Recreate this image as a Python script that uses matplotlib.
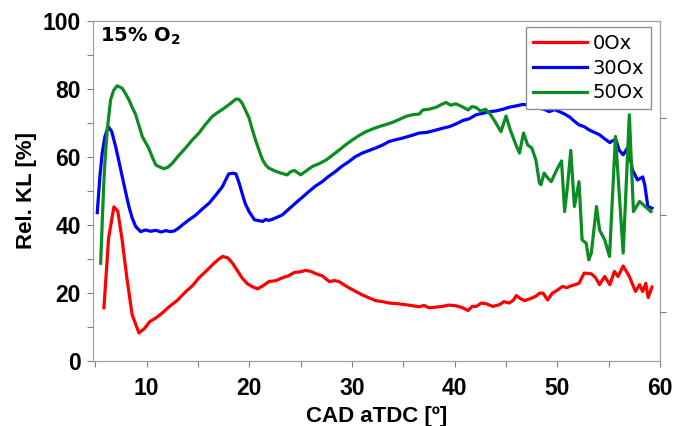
import numpy as np
import matplotlib
matplotlib.use('Agg')
import matplotlib.pyplot as plt
from matplotlib.ticker import MultipleLocator
from matplotlib.font_manager import FontProperties

tick_font = {'family': 'Liberation Sans', 'size': 16.5, 'weight': 'bold'}
label_font = {'family': 'Liberation Sans', 'size': 16, 'weight': 'bold'}

# ------------------- relative KL vs crank angle -------------------
cad_0ox = [5.85, 6.3, 6.82, 7.2, 7.6, 8.1, 8.6, 9.26, 9.8, 10.3, 10.9, 11.5, 12.2, 13.0,
           13.8, 14.5, 15.1, 15.8, 16.4, 16.9, 17.4, 17.9, 18.35, 18.8, 19.3, 19.8, 20.3,
           20.8, 21.3, 21.9, 22.6, 23.2, 23.8, 24.4, 25.0, 25.5, 26.0, 26.5, 27.1, 27.8,
           28.3, 28.75, 29.2, 29.7, 30.3, 31.0, 31.6, 32.3, 33.0, 33.6, 34.4, 35.25, 35.9,
           36.55, 37.0, 37.5, 38.2, 38.8, 39.4, 40.1, 40.7, 41.3, 41.7, 42.1, 42.6, 43.05,
           43.7, 44.35, 44.8, 45.3, 45.7, 46.0, 46.4, 46.8, 47.3, 47.9, 48.25, 48.6, 49.05,
           49.5, 50.0, 50.5, 50.9, 51.2, 51.6, 52.1, 52.6, 53.3, 53.7, 54.1, 54.6, 55.1,
           55.55, 55.9, 56.4, 57.0, 57.6, 58.0, 58.3, 58.6, 58.84, 59.2]
kl_0ox = [15.6, 36.0, 45.3, 44.0, 36.0, 24.0, 13.5, 8.2, 9.5, 11.5, 12.6, 14.0, 15.9, 17.8,
          20.3, 22.2, 24.4, 26.4, 28.2, 29.6, 30.7, 30.3, 28.8, 26.7, 24.4, 22.7, 21.8,
          21.2, 22.0, 23.3, 23.6, 24.4, 25.0, 26.0, 26.2, 26.6, 26.3, 25.6, 25.0, 23.3,
          23.6, 23.3, 22.4, 21.5, 20.5, 19.4, 18.6, 17.7, 17.4, 17.0, 16.8, 16.5, 16.2,
          15.9, 16.3, 15.6, 15.8, 16.0, 16.4, 16.2, 15.7, 14.8, 16.0, 16.0, 17.0, 16.8,
          16.0, 16.5, 17.4, 17.0, 17.8, 19.2, 18.3, 17.7, 18.2, 19.0, 19.9, 19.9, 17.9,
          19.9, 20.8, 21.9, 21.5, 21.9, 22.3, 22.8, 25.8, 25.6, 24.5, 22.4, 24.8, 22.4,
          26.3, 24.8, 27.9, 24.8, 20.4, 22.4, 20.4, 22.8, 18.6, 21.7]

cad_30ox = [5.2, 5.45, 5.68, 5.95, 6.27, 6.6, 6.99, 7.3, 7.63, 7.95, 8.28, 8.6, 8.94, 9.42,
            9.9, 10.4, 10.9, 11.4, 11.9, 12.3, 12.7, 13.1, 13.5, 14.1, 14.8, 15.4, 16.1,
            16.7, 17.4, 17.7, 18.0, 18.4, 18.7, 19.0, 19.3, 19.6, 19.98, 20.5, 21.0, 21.3,
            21.6, 21.9, 22.3, 23.2, 23.8, 24.5, 25.2, 25.8, 26.4, 27.1, 27.7, 28.4, 29.0,
            29.7, 30.3, 31.0, 31.6, 32.3, 33.0, 33.6, 34.2, 34.9, 35.7, 36.55, 37.3, 38.2,
            38.8, 39.5, 40.2, 40.8, 41.4, 42.1, 42.7, 43.4, 44.0, 44.7, 45.3, 46.0, 46.6,
            47.3, 47.8, 48.25, 48.7, 49.2, 49.7, 50.2, 50.7, 51.2, 51.6, 52.1, 52.6, 53.1,
            53.6, 54.1, 54.6, 55.1, 55.4, 55.7, 56.0, 56.4, 56.9, 57.3, 57.8, 58.3, 58.5,
            58.8, 59.2]
kl_30ox = [43.6, 54.0, 61.1, 66.0, 68.9, 67.5, 63.0, 58.8, 54.2, 49.8, 45.4, 42.0, 39.5, 38.0,
           38.5, 38.1, 38.4, 37.9, 38.3, 38.0, 38.2, 39.0, 40.0, 41.4, 42.9, 44.6, 46.4,
           48.6, 51.3, 53.2, 55.0, 55.2, 55.0, 52.4, 49.3, 46.3, 43.9, 41.5, 41.2, 41.0,
           41.6, 41.3, 41.7, 42.9, 44.5, 46.4, 48.2, 49.8, 51.3, 52.7, 54.2, 55.7, 57.2,
           58.6, 60.0, 61.1, 61.8, 62.6, 63.5, 64.5, 65.0, 65.5, 66.2, 67.0, 67.2, 67.9,
           68.4, 68.9, 69.8, 70.7, 71.2, 72.4, 72.8, 73.3, 73.5, 74.0, 74.6, 75.0, 75.4,
           75.3, 74.8, 74.3, 74.0, 73.3, 73.9, 73.3, 72.6, 71.7, 70.6, 69.4, 68.9, 67.9,
           67.2, 66.5, 65.3, 64.2, 64.8, 65.0, 62.0, 60.6, 63.0, 56.2, 53.2, 54.1, 51.8,
           45.4, 44.9]

cad_50ox = [5.53, 5.7, 5.85, 6.0, 6.17, 6.5, 6.8, 7.14, 7.63, 7.95, 8.28, 8.6, 8.94, 9.25,
            9.58, 10.2, 10.55, 10.9, 11.3, 11.7, 12.1, 12.5, 13.1, 13.8, 14.4, 15.1, 15.7,
            16.4, 16.9, 17.4, 18.0, 18.7, 19.0, 19.3, 19.6, 19.98, 20.3, 20.6, 21.0, 21.3,
            21.6, 21.9, 22.6, 23.1, 23.7, 24.0, 24.4, 25.0, 25.6, 26.15, 26.8, 27.5, 28.1,
            28.75, 29.4, 30.05, 30.7, 31.35, 32.0, 32.65, 33.3, 33.9, 34.6, 35.25, 35.9,
            36.55, 36.9, 37.5, 38.2, 38.7, 39.15, 39.6, 40.1, 40.7, 41.3, 41.7, 42.1, 42.5,
            43.0, 43.4, 43.9, 44.5, 45.0, 45.4, 45.9, 46.3, 46.7, 47.1, 47.5, 47.9, 48.25,
            48.4, 48.7, 49.0, 49.4, 49.9, 50.4, 50.7, 51.0, 51.3, 51.65, 52.1, 52.4, 52.8,
            53.05, 53.3, 53.8, 54.1, 54.6, 55.07, 55.65, 56.4, 57.0, 57.4, 58.0, 58.5, 59.1]
kl_50ox = [28.7, 42.0, 53.2, 61.0, 67.9, 76.8, 79.6, 80.9, 80.2, 78.6, 76.8, 74.6, 72.4, 69.3,
           66.0, 62.6, 60.0, 57.6, 57.0, 56.5, 57.0, 58.1, 60.3, 62.6, 64.8, 67.0, 69.4,
           71.9, 73.0, 74.0, 75.3, 77.0, 76.9, 75.8, 73.9, 71.4, 68.0, 65.0, 61.5, 59.1,
           57.6, 56.7, 55.7, 55.2, 54.7, 55.6, 56.0, 54.7, 56.0, 57.2, 58.0, 59.1, 60.5,
           62.0, 63.6, 65.0, 66.3, 67.4, 68.2, 68.9, 69.5, 70.1, 71.0, 71.9, 72.4, 72.6,
           73.8, 74.0, 74.6, 75.4, 76.0, 75.2, 75.6, 74.8, 73.8, 74.8, 74.5, 73.5, 74.0,
           72.8, 70.5, 67.4, 72.0, 68.0, 64.0, 61.1, 67.0, 63.5, 62.6, 59.1, 52.3,
           51.8, 55.2, 54.0, 52.7, 56.0, 58.8, 43.9, 52.0, 61.9, 45.4, 52.7, 35.6, 34.6,
           29.7, 31.7, 45.4, 38.5, 35.6, 30.7, 66.0, 31.7, 72.4, 43.9, 46.9, 45.5, 43.9]

fig = plt.figure(figsize=(6.75, 4.26), dpi=100)
ax = fig.add_axes([0.138, 0.153, 0.84, 0.798])

ax.plot(cad_0ox, kl_0ox, color='#ff0000', linewidth=2.3, label='0Ox')
ax.plot(cad_30ox, kl_30ox, color='#0000ff', linewidth=2.3, label='30Ox')
ax.plot(cad_50ox, kl_50ox, color='#0c8c22', linewidth=2.3, label='50Ox')

ax.set_xlim(4.8, 60)
ax.set_ylim(0, 100)
ax.xaxis.set_major_locator(MultipleLocator(10))
ax.xaxis.set_minor_locator(MultipleLocator(5))
ax.yaxis.set_major_locator(MultipleLocator(20))
ax.yaxis.set_minor_locator(MultipleLocator(10))
ax.tick_params(which='both', direction='out', color='#808080', length=4, width=0.8)
ax.tick_params(axis='x', pad=8)
ax.tick_params(axis='y', pad=5)
ax.tick_params(top=False, right=False)
for lab in ax.get_xticklabels() + ax.get_yticklabels():
    lab.set_fontproperties(FontProperties(**tick_font))
for sp in ax.spines.values():
    sp.set_color('#a0a0a0')
    sp.set_linewidth(0.9)

# unlabeled ticks on the right edge
ax2 = ax.twinx()
ax2.set_ylim(0, 3.5)
ax2.set_yticks([0.5, 1.5, 2.5])
ax2.set_yticklabels([])
ax2.tick_params(direction='out', color='#808080', length=4, width=0.8)
for sp in ax2.spines.values():
    sp.set_visible(False)

ax.set_xlabel('CAD aTDC [º]', labelpad=4, **label_font)
ax.set_ylabel('Rel. KL [%]', labelpad=4, **label_font)

ax.text(0.012, 0.985, r'15% O$_\mathbf{2}$', transform=ax.transAxes, ha='left', va='top',
        fontsize=14, fontweight='bold', family='DejaVu Sans')

leg = ax.legend(loc='upper right', bbox_to_anchor=(0.988, 0.988), fancybox=False, framealpha=1,
                edgecolor='#909090', prop={'family': 'DejaVu Sans', 'size': 14},
                handlelength=2.8, handletextpad=0.3, borderpad=0.35, labelspacing=0.3,
                borderaxespad=0.1)
leg.get_frame().set_linewidth(1.0)

fig.savefig('out.png', dpi=100)
